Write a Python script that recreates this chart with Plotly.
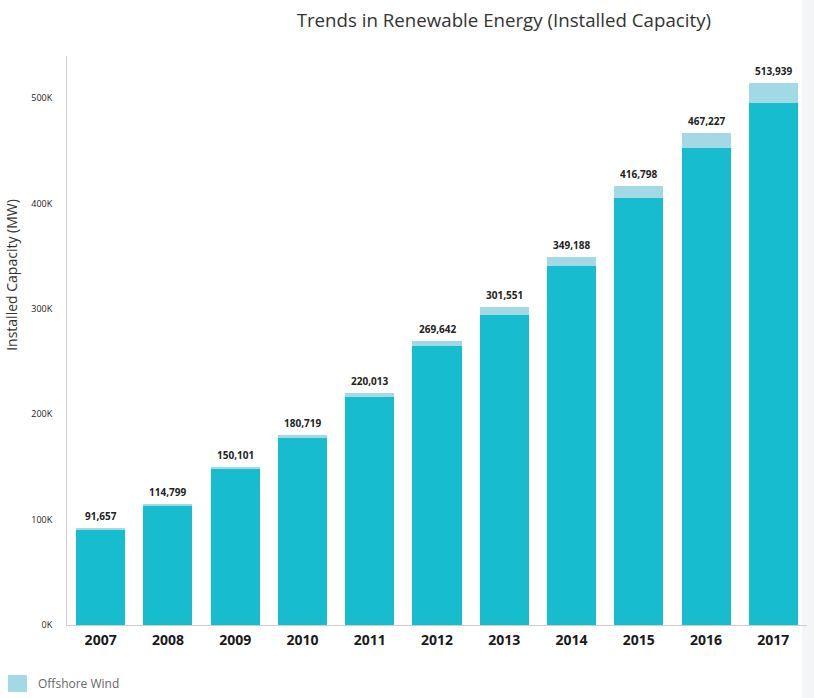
import plotly.graph_objects as go

years = ["2007", "2008", "2009", "2010", "2011", "2012", "2013", "2014", "2015", "2016", "2017"]
totals = [91657, 114799, 150101, 180719, 220013, 269642, 301551, 349188, 416798, 467227, 513939]
offshore = [1100, 1500, 2100, 3000, 4000, 5300, 7000, 8600, 11900, 14200, 18800]
onshore = [t - o for t, o in zip(totals, offshore)]
ytick_vals = [0, 100000, 200000, 300000, 400000, 500000]
ytick_text = ["0K", "100K", "200K", "300K", "400K", "500K"]

ONSHORE_COLOR = "#17bccf"
OFFSHORE_COLOR = "#a2d9e4"
FONT = "Open Sans"

fig = go.Figure()
fig.add_trace(go.Bar(x=years, y=onshore, name="Onshore Wind", marker_color=ONSHORE_COLOR,
                     marker_line_width=0, showlegend=False))
fig.add_trace(go.Bar(x=years, y=offshore, name="Offshore Wind", marker_color=OFFSHORE_COLOR,
                     marker_line_width=0, showlegend=False))

# total labels above each stacked bar (category index positions)
for i, t in enumerate(totals):
    fig.add_annotation(x=i, y=t, xref="x", yref="y", text=f"<b>{t:,}</b>", showarrow=False,
                       yanchor="bottom", yshift=3, font=dict(family=FONT, size=10, color="#222222"))

# y-axis title at the left edge
fig.add_annotation(xref="paper", yref="paper", x=-0.076, y=0.615, text="Installed Capacity (MW)",
                   textangle=-90, showarrow=False, xanchor="center", yanchor="middle",
                   font=dict(family=FONT, size=14, color="#333333"))

# legend entry (swatch + label) at bottom-left
fig.add_shape(type="rect", xref="paper", yref="paper", x0=-0.0797, x1=-0.054, y0=-0.1178, y1=-0.0879,
              fillcolor=OFFSHORE_COLOR, line_width=0)
fig.add_annotation(xref="paper", yref="paper", x=-0.0419, y=-0.102, text="Offshore Wind",
                   showarrow=False, xanchor="left", yanchor="middle",
                   font=dict(family=FONT, size=12, color="#666666"))

# light side strip at the right edge
fig.add_shape(type="rect", xref="paper", yref="paper", x0=0.9935, x1=1.02, y0=-0.14, y1=1.11,
              fillcolor="#f3f5f7", line_width=0, layer="below")

fig.update_layout(
    width=814, height=698,
    margin=dict(l=67, r=7, t=56, b=73),
    barmode="stack",
    bargap=0.27,
    showlegend=False,
    plot_bgcolor="white",
    paper_bgcolor="white",
    font=dict(family=FONT, color="#333333"),
    title=dict(text="Trends in Renewable Energy (Installed Capacity)", x=0.619, xanchor="center",
               y=0.971, yanchor="middle", font=dict(family=FONT, size=18.7, color="#333333")),
    xaxis=dict(type="category", range=[-0.5, 10.5], showline=True, linecolor="#cccccc",
               linewidth=1, showgrid=False, ticks="",
               tickfont=dict(family=FONT, size=14, color="#1a1a1a"), ticklabelstandoff=2,
               tickprefix="<b>", ticksuffix="</b>"),
    yaxis=dict(range=[0, 540000], showline=True, linecolor="#cccccc", linewidth=1, showgrid=False,
               zeroline=False, tickvals=ytick_vals, ticktext=ytick_text, ticks="",
               tickfont=dict(family=FONT, size=9, color="#222222"), ticklabelstandoff=12),
)

fig.write_html("out.html")
